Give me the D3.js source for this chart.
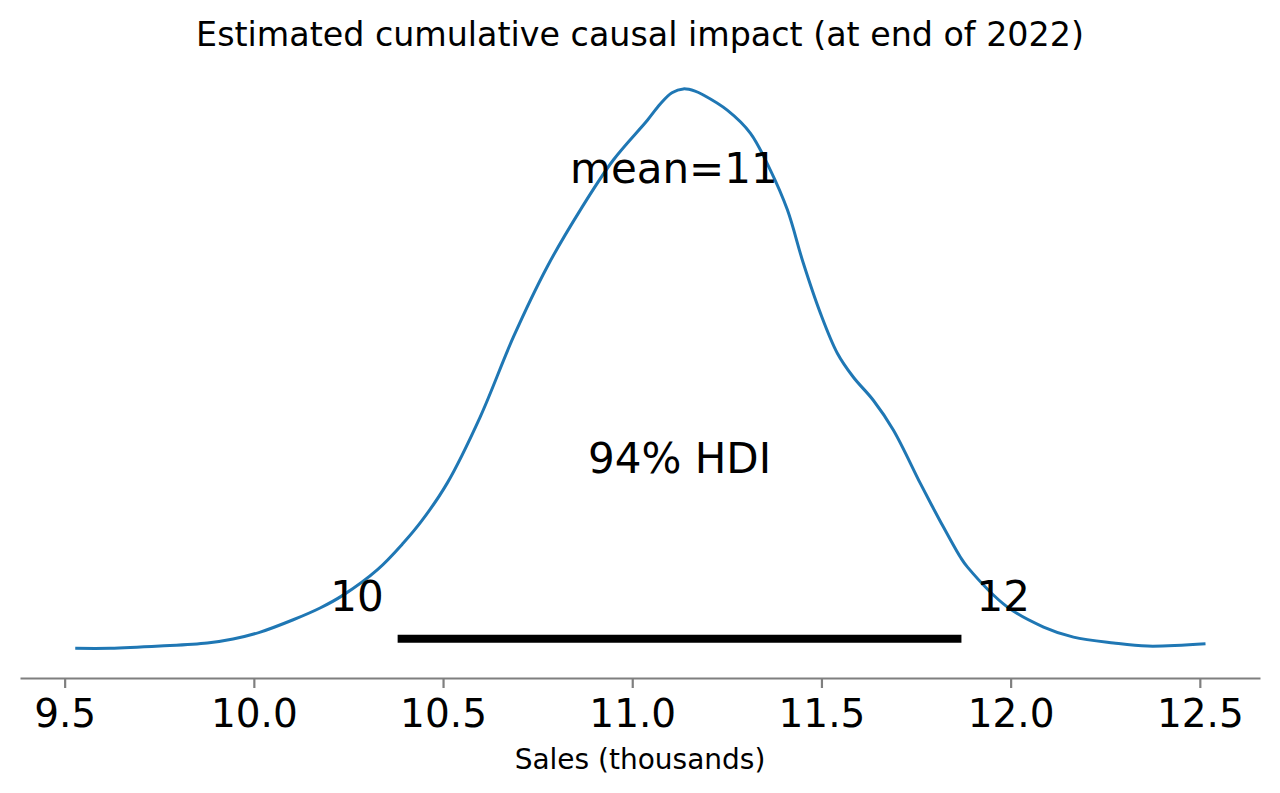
<!DOCTYPE html>
<html>
<head>
<meta charset="utf-8">
<script src="https://cdn.jsdelivr.net/npm/d3@7"></script>
<style>
  body { margin: 0; background: #fff; }
  text { font-family: "DejaVu Sans", sans-serif; fill: #000; }
</style>
</head>
<body>
<div id="chart-area"></div>
<script>
// posterior KDE of cumulative impact (x = sales in thousands, y = density)
const salesX = [9.528, 9.620, 9.752, 9.877, 9.945, 10.017, 10.104, 10.175, 10.236, 10.326,
  10.395, 10.443, 10.511, 10.598, 10.686, 10.775, 10.863, 10.950, 11.040,
  11.074, 11.105, 11.135, 11.166, 11.188, 11.251, 11.312, 11.365, 11.410, 11.452, 11.497, 11.542,
  11.584, 11.637, 11.690, 11.761, 11.795, 11.822, 11.867, 11.886, 11.991, 12.087, 12.166,
  12.272, 12.362, 12.515];
const densityY = [0.003, 0.003, 0.007, 0.0125, 0.0196, 0.032, 0.054, 0.075, 0.098, 0.143,
  0.191, 0.230, 0.298, 0.416, 0.559, 0.684, 0.786, 0.875, 0.946,
  0.975, 0.995, 1.002, 0.998, 0.991, 0.964, 0.923, 0.857, 0.786, 0.691, 0.602, 0.530,
  0.4875, 0.446, 0.393, 0.298, 0.254, 0.220, 0.166, 0.148, 0.077, 0.041, 0.023,
  0.0125, 0.007, 0.011];
const tickVals = [9.5, 10.0, 10.5, 11.0, 11.5, 12.0, 12.5];
const meanVal = 11.11;
const hdiLow = 10.38, hdiHigh = 11.87;
const hdiProb = 0.94;

const width = 1280, height = 793;

let svg = d3.select("#chart-area")
  .append("svg")
  .attr("width", width)
  .attr("height", height);

let x = d3.scaleLinear().domain([9.382, 12.659]).range([20, 1260]);
let y = d3.scaleLinear().domain([0, 1]).range([650, 90]);

const data = salesX.map((v, i) => ({ x: v, y: densityY[i] }));

// AXIS
let xAxis = d3.axisBottom(x)
  .tickValues(tickVals)
  .tickFormat(d3.format(".1f"))
  .tickSize(10)
  .tickSizeOuter(0)
  .tickPadding(11);

let xAxisGroup = svg.append("g")
  .attr("class", "x-axis axis")
  .attr("transform", "translate(0,678)")
  .call(xAxis);

xAxisGroup.select(".domain").attr("stroke", "#7f7f7f").attr("stroke-width", 2);
xAxisGroup.selectAll(".tick line")
  .attr("stroke", "#7f7f7f")
  .attr("stroke-width", 2.2);
xAxisGroup.selectAll(".tick text")
  .attr("font-size", 39)
  .attr("font-family", "DejaVu Sans")
  .attr("fill", "#000");

// density line
let line = d3.line()
  .x(d => x(d.x))
  .y(d => y(d.y))
  .curve(d3.curveCatmullRom);

svg.append("path")
  .datum(data)
  .attr("fill", "none")
  .attr("stroke", "#1f77b4")
  .attr("stroke-width", 3)
  .attr("d", line);

// hdi bar + labels
svg.append("line")
  .attr("x1", x(hdiLow))
  .attr("x2", x(hdiHigh))
  .attr("y1", y(0.02))
  .attr("y2", y(0.02))
  .attr("stroke", "#000")
  .attr("stroke-width", 8);

svg.append("text")
  .attr("x", x(hdiLow) - 14)
  .attr("y", y(0.07))
  .attr("text-anchor", "end")
  .attr("font-size", 42)
  .text(Math.round(hdiLow));

svg.append("text")
  .attr("x", x(hdiHigh) + 15)
  .attr("y", y(0.07))
  .attr("text-anchor", "start")
  .attr("font-size", 42)
  .text(Math.round(hdiHigh));

svg.append("text")
  .attr("x", x((hdiLow + hdiHigh) / 2))
  .attr("y", 473)
  .attr("text-anchor", "middle")
  .attr("font-size", 42)
  .text(Math.round(hdiProb * 100) + "% HDI");

svg.append("text")
  .attr("x", x(meanVal))
  .attr("y", 183)
  .attr("text-anchor", "middle")
  .attr("font-size", 42)
  .text("mean=" + Math.round(meanVal));

// titles
svg.append("text")
  .attr("x", 640)
  .attr("y", 46)
  .attr("text-anchor", "middle")
  .attr("font-size", 33.3)
  .text("Estimated cumulative causal impact (at end of 2022)");

svg.append("text")
  .attr("x", 640)
  .attr("y", 769)
  .attr("text-anchor", "middle")
  .attr("font-size", 28)
  .text("Sales (thousands)");
</script>
</body>
</html>
